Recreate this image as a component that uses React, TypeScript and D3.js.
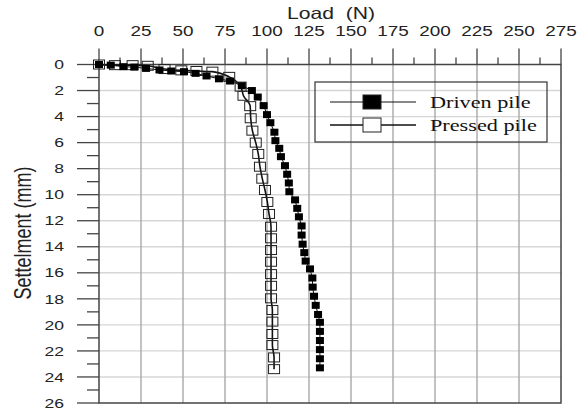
import React, { useEffect, useRef } from 'react';
import * as d3 from 'd3';

// load (N) and settlement (mm)
const drivenLoad = [0, 7, 14.5, 21, 28, 36, 43, 50.6, 57.5, 64, 71.4, 78, 85, 91, 94.5, 98, 100, 102, 104.4, 105, 107.3, 108.3, 110.7, 112, 113, 113.3, 116.7, 118, 119, 120.6, 120.6, 121.2, 122.2, 123, 125.6, 127, 127.2, 128, 129, 130.4, 131.5, 131.5, 131.5, 131.5, 131.5, 131.5];
const drivenSettle = [0, 0.05, 0.17, 0.2, 0.3, 0.42, 0.5, 0.55, 0.68, 0.88, 1.1, 1.27, 1.63, 2.0, 2.5, 3.16, 3.85, 4.47, 5.2, 5.85, 6.44, 7.08, 7.77, 8.43, 9.1, 9.77, 10.4, 11.05, 11.7, 12.4, 13.1, 13.8, 14.45, 15.1, 15.7, 16.4, 17.1, 17.8, 18.5, 19.2, 19.8, 20.5, 21.2, 21.9, 22.6, 23.3];

const pressedLoad = [0, 9.5, 20, 29, 39, 49, 58, 67.5, 77.5, 84.3, 86, 90, 90.3, 91.3, 93.3, 94.8, 95.8, 97.2, 98.8, 100.2, 101.2, 102.4, 102.4, 102.4, 102.4, 102.4, 102.4, 102.4, 103.2, 103.2, 103.2, 103.2, 104.2, 104.2];
const pressedSettle = [0, 0.05, 0.05, 0.1, 0.35, 0.45, 0.5, 0.55, 0.95, 1.7, 2.4, 3.2, 4.13, 5.08, 6.0, 6.87, 7.85, 8.77, 9.64, 10.56, 11.48, 12.46, 13.35, 14.25, 15.15, 16.1, 17.0, 17.96, 18.86, 19.75, 20.7, 21.55, 22.5, 23.4];

const xTicks = d3.range(0, 276, 25);
const xMinor = d3.range(12.5, 275, 25);
const yTicks = d3.range(0, 27, 2);
const yMinor = d3.range(1, 26, 2);

const seriesNames = ['Driven pile', 'Pressed pile'];

const Chart = () => {
  const svgRef = useRef<SVGSVGElement>(null);

  useEffect(() => {
    const svg = d3.select(svgRef.current);
    svg.selectAll('*').remove();

    const width = 582;
    const height = 413;
    const left = 99, right = 561, top = 64.5, bottom = 403;
    const sx = 1.35; // the picture's text is stretched sideways

    const x = d3.scaleLinear([0, 275], [left, right]);
    const y = d3.scaleLinear([0, 26], [top, bottom]);

    svg.attr('width', width).attr('height', height);

    // grid
    svg.append('g')
      .selectAll('line')
      .data(yTicks.slice(1, -1))
      .join('line')
      .attr('x1', left).attr('x2', right)
      .attr('y1', d => y(d)).attr('y2', d => y(d))
      .attr('stroke', '#d6d6d6').attr('stroke-width', 1.4);

    svg.append('g')
      .selectAll('line')
      .data(xTicks.slice(1, -1))
      .join('line')
      .attr('x1', d => x(d)).attr('x2', d => x(d))
      .attr('y1', top).attr('y2', bottom)
      .attr('stroke', '#a8a8a8').attr('stroke-width', 1.4);

    // frame and ticks
    const axisColor = '#444';
    svg.append('rect')
      .attr('x', left).attr('y', top)
      .attr('width', right - left).attr('height', bottom - top)
      .attr('fill', 'none').attr('stroke', axisColor).attr('stroke-width', 1.5);

    svg.append('g')
      .selectAll('line')
      .data(xTicks)
      .join('line')
      .attr('x1', d => x(d)).attr('x2', d => x(d))
      .attr('y1', top - 16).attr('y2', top)
      .attr('stroke', axisColor).attr('stroke-width', 1.3);

    svg.append('g')
      .selectAll('line')
      .data(xMinor)
      .join('line')
      .attr('x1', d => x(d)).attr('x2', d => x(d))
      .attr('y1', top - 7).attr('y2', top)
      .attr('stroke', axisColor).attr('stroke-width', 1.3);

    svg.append('g')
      .selectAll('line')
      .data(yTicks)
      .join('line')
      .attr('x1', left - 22).attr('x2', left)
      .attr('y1', d => y(d)).attr('y2', d => y(d))
      .attr('stroke', axisColor).attr('stroke-width', 1.3);

    svg.append('g')
      .selectAll('line')
      .data(yMinor)
      .join('line')
      .attr('x1', left - 12).attr('x2', left)
      .attr('y1', d => y(d)).attr('y2', d => y(d))
      .attr('stroke', axisColor).attr('stroke-width', 1.3);

    // tick labels
    const font = 'Arial, "Liberation Sans", sans-serif';
    svg.append('g')
      .selectAll('text')
      .data(xTicks)
      .join('text')
      .attr('transform', d => `translate(${x(d)},36) scale(${sx},1)`)
      .attr('text-anchor', 'middle')
      .attr('font-family', font).attr('font-size', 14).attr('fill', '#222')
      .text(d => d);

    svg.append('g')
      .selectAll('text')
      .data(yTicks)
      .join('text')
      .attr('transform', d => `translate(64,${y(d)}) scale(${sx},1)`)
      .attr('dy', '0.36em')
      .attr('text-anchor', 'end')
      .attr('font-family', font).attr('font-size', 13).attr('fill', '#222')
      .text(d => d);

    // axis titles
    svg.append('text')
      .attr('transform', `translate(331,19) scale(1.28,1)`)
      .attr('text-anchor', 'middle')
      .attr('font-family', font).attr('font-size', 16.5).attr('fill', '#222')
      .style('white-space', 'pre')
      .text('Load  (N)');

    svg.append('text')
      .attr('transform', `translate(31,233) scale(${sx},1) rotate(-90)`)
      .attr('text-anchor', 'middle')
      .attr('font-family', font).attr('font-size', 18).attr('fill', '#222')
      .text('Settelment (mm)');

    // series
    const driven = drivenLoad.map((v, i) => [v, drivenSettle[i]] as [number, number]);
    const pressed = pressedLoad.map((v, i) => [v, pressedSettle[i]] as [number, number]);

    const line = d3.line<[number, number]>()
      .x(d => x(d[0]))
      .y(d => y(d[1]));

    svg.append('path')
      .attr('fill', 'none').attr('stroke', '#111').attr('stroke-width', 1)
      .attr('d', line(driven));

    svg.append('path')
      .attr('fill', 'none').attr('stroke', '#111').attr('stroke-width', 1.6)
      .attr('d', line.curve(d3.curveMonotoneY)(pressed));

    svg.append('g')
      .selectAll('rect')
      .data(pressed)
      .join('rect')
      .attr('x', d => x(d[0]) - 5.5).attr('y', d => y(d[1]) - 4.5)
      .attr('width', 11).attr('height', 9)
      .attr('fill', 'none').attr('stroke', '#222').attr('stroke-width', 1);

    svg.append('g')
      .selectAll('rect')
      .data(driven)
      .join('rect')
      .attr('x', d => x(d[0]) - 4).attr('y', d => y(d[1]) - 3.5)
      .attr('width', 8).attr('height', 7)
      .attr('fill', '#000');

    // legend
    const lg = svg.append('g');
    lg.append('rect')
      .attr('x', 315).attr('y', 82).attr('width', 232).attr('height', 60)
      .attr('fill', 'none').attr('stroke', '#333').attr('stroke-width', 1.2);

    seriesNames.forEach((name, i) => {
      const ly = 102 + i * 23;
      lg.append('line')
        .attr('x1', 330).attr('x2', 416).attr('y1', ly).attr('y2', ly)
        .attr('stroke', '#111').attr('stroke-width', i === 0 ? 1 : 1.6);
      lg.append('rect')
        .attr('x', 363).attr('y', ly - 7).attr('width', 18).attr('height', 14)
        .attr('fill', i === 0 ? '#000' : '#fff')
        .attr('stroke', '#222').attr('stroke-width', 1);
      lg.append('text')
        .attr('transform', `translate(430,${ly + 6}) scale(1.27,1)`)
        .attr('font-family', '"Liberation Serif", "Times New Roman", serif')
        .attr('font-size', 17.5).attr('fill', '#111')
        .text(name);
    });
  }, []);

  return <svg ref={svgRef} style={{ position: 'absolute', left: 0, top: 0, background: '#fff' }} />;
};

export default function App() {
  return <Chart />;
}
